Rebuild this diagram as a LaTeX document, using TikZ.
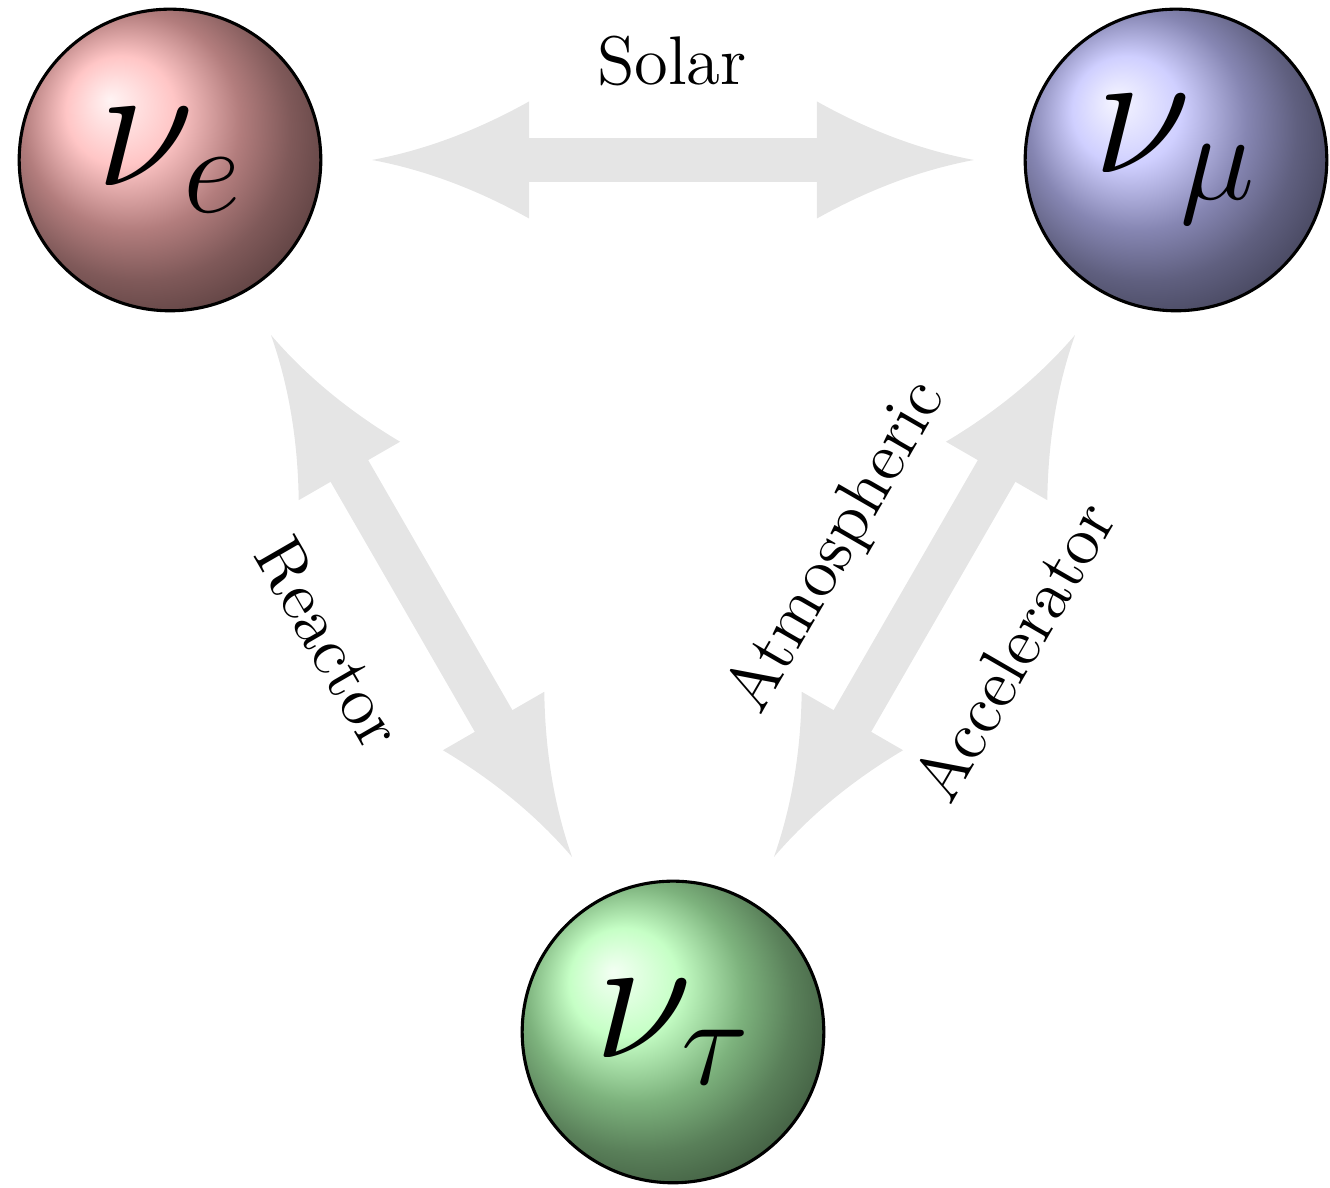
\documentclass[tikz,border=0pt]{standalone}
\usepackage{fix-cm}
\usetikzlibrary{calc}
\pgfarrowsdeclare{osctip}{osctip}
{\pgfarrowsleftextend{-0.65pt}\pgfarrowsrightextend{24.67pt}}
{
  \pgfpathmoveto{\pgfqpoint{24.67pt}{0pt}}
  \pgfpathquadraticcurveto{\pgfqpoint{12.01pt}{2.36pt}}{\pgfqpoint{-0.65pt}{9.435pt}}
  \pgfpathlineto{\pgfqpoint{-0.65pt}{-9.435pt}}
  \pgfpathquadraticcurveto{\pgfqpoint{12.01pt}{-2.36pt}}{\pgfqpoint{24.67pt}{0pt}}
  \pgfpathclose
  \pgfusepathqfill
}
\tikzset{
  flavour/.style={circle, draw=black, line width=0.5pt, minimum size=48.65pt,
    inner sep=0pt, outer sep=0pt, font=\fontsize{29}{34}\selectfont},
  osc/.style={draw=gray!20, line width=7pt, osctip-osctip,
    shorten <=8.26pt, shorten >=8.26pt},
  lbl/.style={font=\fontsize{11.1}{13.5}\selectfont, inner sep=0pt}
}
\begin{document}
\begin{tikzpicture}[x=0.16129pt, y=0.16129pt]
\useasboundingbox (0,0) rectangle (1330,1188);
\node[flavour, ball color=red!30] (e) at (170,1028) {$\nu_e$};
\node[flavour, ball color=blue!25] (m) at (1176,1028) {$\nu_\mu$};
\node[flavour, ball color=green!30] (t) at (673,156) {$\nu_\tau$};
\draw[osc] (e) -- (m);
\draw[osc] (e) -- (t);
\draw[osc] (m) -- (t);
\node[lbl] (solar) at ($(e)!.5!(m)+(-1,98.5)$) {Solar};
\node[lbl, rotate=-60] (reactor) at ($(e)!.494!(t)!16.61pt!-90:(t)$) {Reactor};
\node[lbl, rotate=60] (atmo) at ($(m)!.501!(t)!16.13pt!-90:(t)$) {Atmospheric};
\node[lbl, rotate=60] (accel) at ($(m)!.503!(t)!16.77pt!90:(t)$) {Accelerator};
\end{tikzpicture}
\end{document}
